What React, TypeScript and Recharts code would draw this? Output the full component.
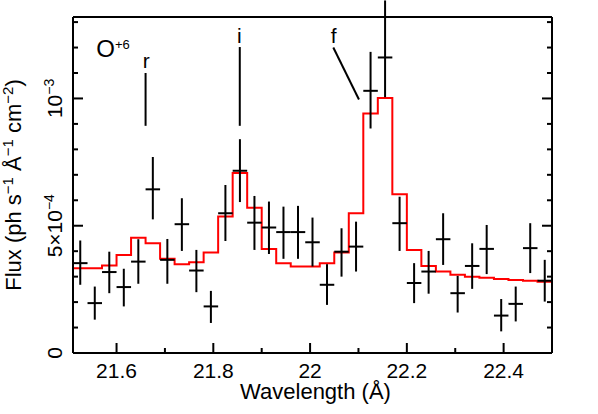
import React from 'react';
import { ComposedChart, XAxis, YAxis, Line, Scatter, ErrorBar, ReferenceLine, ReferenceDot, Label } from 'recharts';

// bin centres (Å), 0.03 Å bins
const wavelength = [
  21.525, 21.555, 21.585, 21.615, 21.645, 21.675, 21.705, 21.735, 21.765, 21.795, 21.825,
  21.855, 21.885, 21.915, 21.945, 21.975, 22.005, 22.035, 22.065, 22.095, 22.125, 22.155,
  22.185, 22.215, 22.245, 22.275, 22.305, 22.335, 22.365, 22.395, 22.425, 22.455, 22.485,
];
const BIN_HALF = 0.015;

// measured flux and its error range (ph s^-1 Å^-1 cm^-2)
const flux = [
  3.53e-4, 1.96e-4, 3.18e-4, 2.59e-4, 3.59e-4, 6.43e-4, 3.66e-4, 5.06e-4, 3.24e-4, 1.83e-4, 5.49e-4,
  7.16e-4, 5.12e-4, 4.93e-4, 4.75e-4, 4.75e-4, 4.35e-4, 2.68e-4, 3.98e-4, 4.18e-4, 10.3e-4, 11.61e-4,
  5.1e-4, 2.75e-4, 3.2e-4, 4.47e-4, 2.35e-4, 3.42e-4, 4.09e-4, 1.47e-4, 1.93e-4, 4.12e-4, 2.84e-4,
];
const fluxLow = [
  2.68e-4, 1.31e-4, 2.35e-4, 1.83e-4, 2.72e-4, 5.25e-4, 2.72e-4, 4.01e-4, 2.39e-4, 1.18e-4, 4.4e-4,
  5.93e-4, 4.05e-4, 3.89e-4, 3.7e-4, 3.7e-4, 3.4e-4, 1.89e-4, 3.0e-4, 3.2e-4, 8.82e-4, 10.05e-4,
  4.01e-4, 1.96e-4, 2.33e-4, 3.46e-4, 1.59e-4, 2.52e-4, 3.1e-4, 0.85e-4, 1.24e-4, 3.14e-4, 2.02e-4,
];
const fluxHigh = [
  4.42e-4, 2.61e-4, 3.98e-4, 3.31e-4, 4.47e-4, 7.7e-4, 4.48e-4, 6.08e-4, 4.05e-4, 2.44e-4, 6.6e-4,
  8.4e-4, 6.17e-4, 5.95e-4, 5.75e-4, 5.78e-4, 5.32e-4, 3.49e-4, 4.9e-4, 5.16e-4, 11.83e-4, 13.85e-4,
  6.14e-4, 3.53e-4, 4.01e-4, 5.49e-4, 3.03e-4, 4.31e-4, 5.03e-4, 2.12e-4, 2.61e-4, 5.1e-4, 3.66e-4,
];
// model per bin
const model = [
  3.33e-4, 3.33e-4, 3.44e-4, 3.85e-4, 4.53e-4, 4.31e-4, 3.7e-4, 3.49e-4, 3.57e-4, 3.95e-4, 5.36e-4,
  7.07e-4, 5.71e-4, 4.09e-4, 3.53e-4, 3.4e-4, 3.4e-4, 3.53e-4, 3.95e-4, 5.49e-4, 9.41e-4, 10.02e-4,
  6.24e-4, 4.05e-4, 3.42e-4, 3.2e-4, 3.07e-4, 3.0e-4, 2.96e-4, 2.91e-4, 2.87e-4, 2.84e-4, 2.8e-4,
];

const xTicks = [21.6, 21.7, 21.8, 21.9, 22, 22.1, 22.2, 22.3, 22.4];
const yTicks = [0, 1e-4, 2e-4, 3e-4, 4e-4, 5e-4, 6e-4, 7e-4, 8e-4, 9e-4, 1e-3, 1.1e-3, 1.2e-3, 1.3e-3];

// line identifications
const lineNames = ['r', 'i', 'f'];
const nameX = [21.6615, 21.854, 22.049];
const nameY = [1.119e-3, 1.216e-3, 1.216e-3];
const markStart = [
  { x: 21.66, y: 1.1e-3 },
  { x: 21.8547, y: 1.202e-3 },
  { x: 22.048, y: 1.2e-3 },
];
const markEnd = [
  { x: 21.66, y: 0.8925e-3 },
  { x: 21.8547, y: 0.8925e-3 },
  { x: 22.101, y: 0.996e-3 },
];
const ION_X = 21.558;
const ION_Y = 1.162e-3;

const FONT = '"Liberation Sans", Arial, Helvetica, sans-serif';

const points = wavelength.map((x, i) => ({
  x,
  y: flux[i],
  ex: BIN_HALF,
  ey: [flux[i] - fluxLow[i], fluxHigh[i] - flux[i]],
}));
const modelSteps = wavelength.map((x, i) => ({ x: x - BIN_HALF, y: model[i] }));
modelSteps.push({ x: wavelength[wavelength.length - 1] + BIN_HALF, y: model[model.length - 1] });

const isMajorX = (v: number) => Math.round(v * 10) % 2 === 0;
const isMajorY = (v: number) => Math.round(v * 1e4) % 5 === 0;

const yTickText = (v: number) => {
  const n = Math.round(v * 1e4);
  if (n === 0) return '0';
  if (n === 5) return <>5×10<tspan dy={-8} fontSize={14}>−4</tspan></>;
  if (n === 10) return <>10<tspan dy={-8} fontSize={14}>−3</tspan></>;
  return null;
};

const BottomTick = (props: any) => {
  const { x, y, payload } = props;
  const major = isMajorX(payload.value);
  return (
    <g>
      <line x1={x} x2={x} y1={y} y2={y - (major ? 10 : 5)} stroke="#000" strokeWidth={2} />
      {major && (
        <text x={x} y={y + 25} textAnchor="middle" fontSize={21} fontFamily={FONT} fill="#000">
          {String(payload.value)}
        </text>
      )}
    </g>
  );
};

const TopTick = (props: any) => {
  const { x, y, payload } = props;
  const major = isMajorX(payload.value);
  return <line x1={x} x2={x} y1={y} y2={y + (major ? 10 : 5)} stroke="#000" strokeWidth={2} />;
};

const LeftTick = (props: any) => {
  const { x, y, payload } = props;
  const major = isMajorY(payload.value);
  return (
    <g>
      <line x1={x} x2={x + (major ? 10 : 5)} y1={y} y2={y} stroke="#000" strokeWidth={2} />
      {major && (
        <text
          transform={`translate(${x - 11},${y}) rotate(-90)`}
          textAnchor="middle"
          fontSize={21}
          fontFamily={FONT}
          fill="#000"
        >
          {yTickText(payload.value)}
        </text>
      )}
    </g>
  );
};

const RightTick = (props: any) => {
  const { x, y, payload } = props;
  const major = isMajorY(payload.value);
  return <line x1={x} x2={x - (major ? 10 : 5)} y1={y} y2={y} stroke="#000" strokeWidth={2} />;
};

const YTitle = (props: any) => {
  const { viewBox } = props;
  const cy = viewBox.y + viewBox.height / 2;
  return (
    <text
      transform={`translate(${viewBox.x + 21},${cy}) rotate(-90)`}
      textAnchor="middle"
      fontSize={22}
      fontFamily={FONT}
      fill="#000"
    >
      Flux (ph s<tspan dy={-8} fontSize={15}>−1</tspan>
      <tspan dy={8}> Å</tspan>
      <tspan dy={-8} fontSize={15}>−1</tspan>
      <tspan dy={8}> cm</tspan>
      <tspan dy={-8} fontSize={15}>−2</tspan>
      <tspan dy={8}>)</tspan>
    </text>
  );
};

const XTitle = (props: any) => {
  const { viewBox } = props;
  return (
    <text
      x={viewBox.x + viewBox.width / 2 + 3}
      y={viewBox.y + 46}
      textAnchor="middle"
      fontSize={22}
      fontFamily={FONT}
      fill="#000"
    >
      Wavelength (Å)
    </text>
  );
};

const App: React.FC = () => {
  return (
    <div style={{ position: 'absolute', left: 0, top: 0, width: 598, height: 414, background: '#fff' }}>
      <ComposedChart width={598} height={414} margin={{ top: 16, right: 45, bottom: 0, left: 0 }}>
        <XAxis
          dataKey="x"
          type="number"
          domain={[21.51, 22.5]}
          allowDataOverflow
          ticks={xTicks}
          interval={0}
          tick={<BottomTick />}
          tickLine={false}
          tickSize={0}
          tickMargin={0}
          axisLine={{ stroke: '#000', strokeWidth: 2 }}
          height={61}
        >
          <Label content={<XTitle />} />
        </XAxis>
        <XAxis
          xAxisId="top"
          orientation="top"
          type="number"
          domain={[21.51, 22.5]}
          allowDataOverflow
          ticks={xTicks}
          interval={0}
          tick={<TopTick />}
          tickLine={false}
          tickSize={0}
          tickMargin={0}
          axisLine={{ stroke: '#000', strokeWidth: 2 }}
          height={1}
        />
        <YAxis
          dataKey="y"
          type="number"
          domain={[0, 1.32e-3]}
          allowDataOverflow
          ticks={yTicks}
          interval={0}
          tick={<LeftTick />}
          tickLine={false}
          tickSize={0}
          tickMargin={0}
          axisLine={{ stroke: '#000', strokeWidth: 2 }}
          width={73}
        >
          <Label content={<YTitle />} />
        </YAxis>
        <YAxis
          yAxisId="right"
          orientation="right"
          type="number"
          domain={[0, 1.32e-3]}
          allowDataOverflow
          ticks={yTicks}
          interval={0}
          tick={<RightTick />}
          tickLine={false}
          tickSize={0}
          tickMargin={0}
          axisLine={{ stroke: '#000', strokeWidth: 2 }}
          width={1}
        />

        <Line
          data={modelSteps}
          dataKey="y"
          type="stepAfter"
          stroke="#ff0000"
          strokeWidth={2}
          dot={false}
          activeDot={false}
          isAnimationActive={false}
        />
        <Scatter data={points} dataKey="y" shape={() => <g />} isAnimationActive={false}>
          <ErrorBar dataKey="ey" direction="y" width={0} stroke="#000" strokeWidth={2} isAnimationActive={false} />
          <ErrorBar dataKey="ex" direction="x" width={0} stroke="#000" strokeWidth={2} isAnimationActive={false} />
        </Scatter>

        {lineNames.map((name, i) => (
          <ReferenceLine
            key={`m-${name}`}
            segment={[markStart[i], markEnd[i]]}
            stroke="#000"
            strokeWidth={2}
          />
        ))}
        {lineNames.map((name, i) => (
          <ReferenceDot
            key={`n-${name}`}
            x={nameX[i]}
            y={nameY[i]}
            r={0}
            fill="none"
            stroke="none"
            label={(p: any) => (
              <text x={p.viewBox.x} y={p.viewBox.y} textAnchor="middle" fontSize={21} fontFamily={FONT} fill="#000">
                {name}
              </text>
            )}
          />
        ))}
        <ReferenceDot
          x={ION_X}
          y={ION_Y}
          r={0}
          fill="none"
          stroke="none"
          label={(p: any) => (
            <text x={p.viewBox.x} y={p.viewBox.y} textAnchor="start" fontSize={24} fontFamily={FONT} fill="#000">
              O<tspan dy={-8} fontSize={13}>+6</tspan>
            </text>
          )}
        />
      </ComposedChart>
    </div>
  );
};

export default App;
